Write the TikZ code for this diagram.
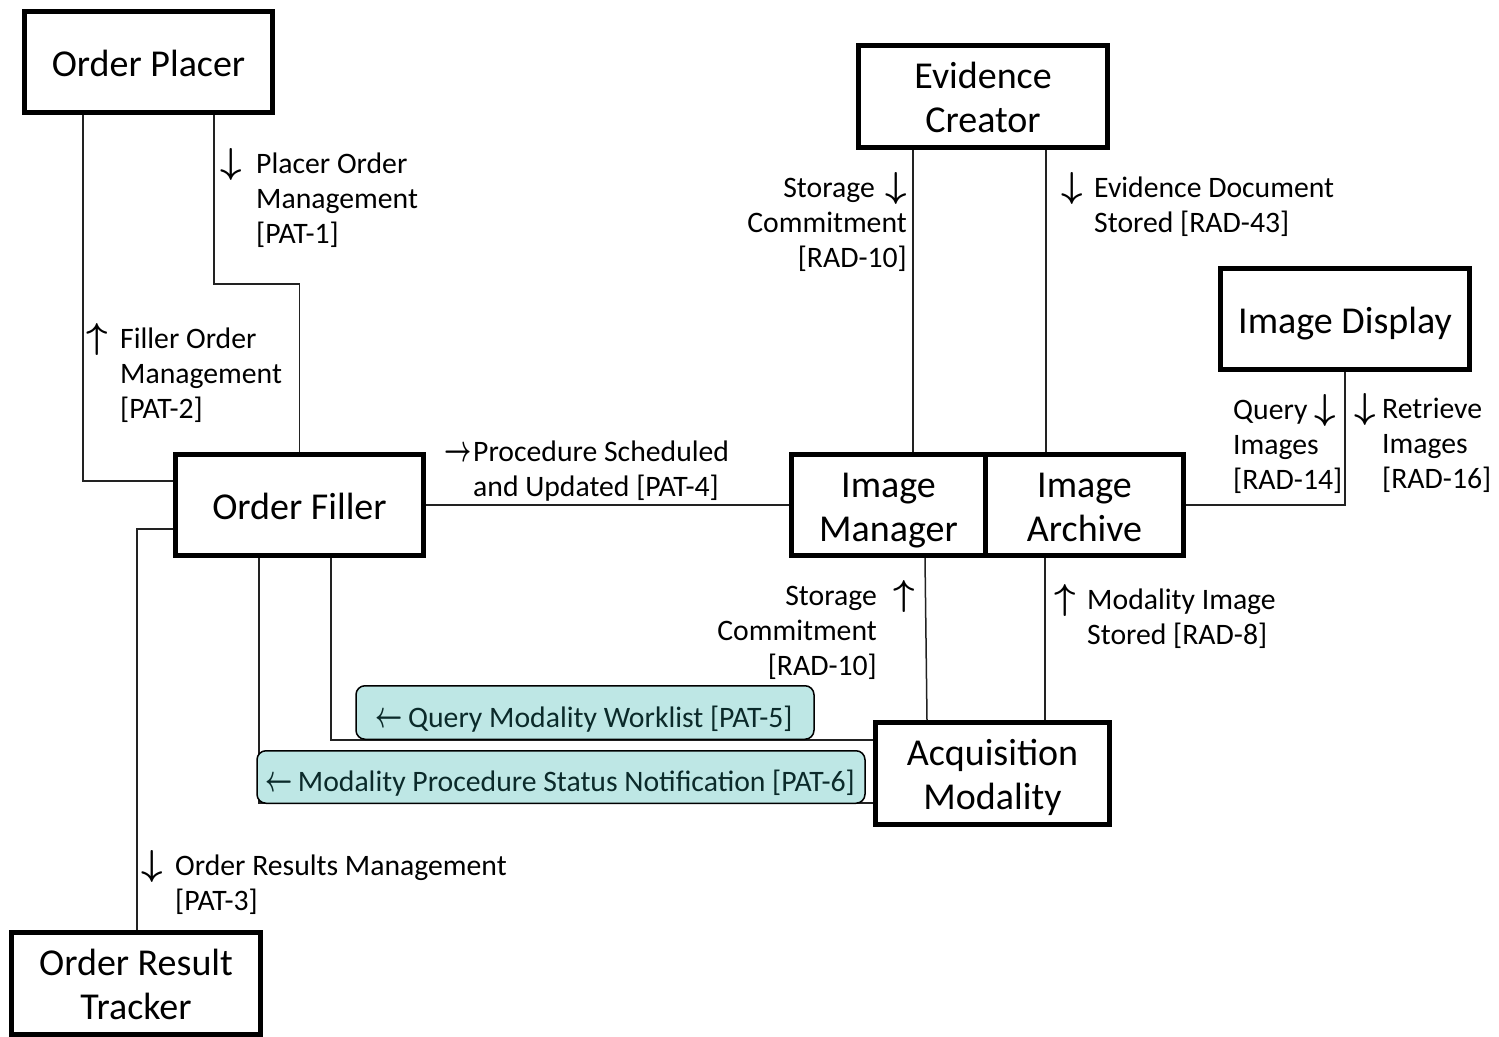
\documentclass[tikz,border=0pt]{standalone}
\usepackage{graphicx}
\usepackage{fontspec}
\setmainfont{Carlito}
\newcommand\ArrD{\makebox[22pt][c]{\scalebox{1.5}[1.45]{\boldmath$\downarrow$}}}
\newcommand\ArrU{\makebox[22pt][c]{\scalebox{1.5}[1.45]{\boldmath$\uparrow$}}}
\newcommand\ArrR{\makebox[24pt][c]{\scalebox{0.95}[1.5]{\boldmath$\rightarrow$}}}
\newcommand\ArrL{\makebox[24pt][c]{\scalebox{0.95}[1.5]{\boldmath$\leftarrow$}}}
\newcommand\bs{\rule[-8pt]{0pt}{44pt}}
\newcommand\boxfont{\fontsize{38}{44}\selectfont}
\newcommand\labfont{\fontsize{29.7}{35}\selectfont}
\definecolor{msgfill}{HTML}{BEE7E5}
\definecolor{msgtext}{HTML}{0B2A2A}
\definecolor{wirecol}{HTML}{222222}
\tikzset{
  box/.style={draw, line width=5pt, inner sep=0pt, align=center, font=\boxfont},
  lab/.style={inner sep=0pt, font=\labfont},
  wire/.style={line width=1.5pt, draw=wirecol},
  msg/.style={draw, line width=1.5pt, rounded corners=9pt, fill=msgfill, inner sep=0pt,
    font=\labfont, text=msgtext, text height=33pt, text depth=4pt}
}
\begin{document}
\begin{tikzpicture}[x=1pt,y=-1pt]
\fill[white] (0,0) rectangle (1499,1036);
\useasboundingbox (0,0) rectangle (1499,1036);

% boxes
\node[box, minimum width=248pt, minimum height=101pt] (OP) at (148.5,62) {\bs Order Placer};
\node[box, minimum width=249pt, minimum height=102pt] (EC) at (983,96.5) {\bs Evidence\\\bs Creator};
\node[box, minimum width=249pt, minimum height=101pt] (ID) at (1345,319) {\bs Image Display};
\node[box, minimum width=248pt, minimum height=101pt] (OF) at (299.5,505) {\bs Order Filler};
\node[box, minimum width=194pt, minimum height=101pt] (IM) at (888.5,505) {\bs Image\\\bs Manager};
\node[box, minimum width=198pt, minimum height=101pt] (IA) at (1084.5,505) {\bs Image\\\bs Archive};
\node[box, minimum width=234pt, minimum height=102pt] (AM) at (992.5,773.5) {\bs Acquisition\\\bs Modality};
\node[box, minimum width=249pt, minimum height=102pt] (ORT) at (136,983.5) {\bs Order Result\\\bs Tracker};

% connectors
\draw[wire] (OP.south -| 83,0) |- (OF.west |- 0,481);
\draw[wire] (OP.south -| 214,0) -- (214,284) -| (OF.north);
\draw[wire] (OF.east) -- (IM.west);
\draw[wire] (EC.south -| 913,0) -- (IM.north -| 913,0);
\draw[wire] (EC.south -| 1046,0) -- (IA.north -| 1046,0);
\draw[wire] (ID.south) |- (IA.east);
\draw[wire] (IM.south -| 925,0) -- (AM.north -| 927,0);
\draw[wire] (IA.south -| 1045,0) -- (AM.north -| 1045,0);
\draw[wire] (OF.south -| 331,0) |- (AM.west |- 0,740);
\draw[wire] (OF.south -| 259,0) |- (AM.west |- 0,803);
\draw[wire] (OF.west |- 0,529) -| (ORT.north -| 137,0);

% message boxes
\node[msg, minimum width=458pt, minimum height=53.5pt] (m5) at (585,712.5) {\ArrL{} Query Modality Worklist [PAT-5]};
\node[msg, minimum width=608pt, minimum height=52.5pt] (m6) at (561,777) {\ArrL{} Modality Procedure Status Notification [PAT-6]};

% labels
\node[lab, anchor=base west] (l1) at (220,173) {\begin{tabular}[t]{@{}l@{\hspace{14pt}}l@{}}\ArrD & Placer Order\\ & Management\\ & [PAT-1]\end{tabular}};
\node[lab, anchor=base west] (l2) at (86,348) {\begin{tabular}[t]{@{}l@{\hspace{12pt}}l@{}}\ArrU & Filler Order\\ & Management\\ & [PAT-2]\end{tabular}};
\node[lab, anchor=base east] (l3) at (907,197) {\begin{tabular}[t]{@{}r@{}}Storage\hspace{10pt}\ArrD\\ Commitment\\ {[RAD-10]}\end{tabular}};
\node[lab, anchor=base west] (l4) at (1061,197) {\begin{tabular}[t]{@{}l@{\hspace{11pt}}l@{}}\ArrD & Evidence Document\\ & Stored [RAD-43]\end{tabular}};
\node[lab, anchor=base west] (l5) at (1233,419) {\begin{tabular}[t]{@{}l@{}}Query\hspace{7pt}\ArrD\\ Images\\ {[RAD-14]}\end{tabular}};
\node[lab, anchor=base west] (l6) at (1354,418) {\begin{tabular}[t]{@{}l@{\hspace{6pt}}l@{}}\ArrD & Retrieve\\ & Images\\ & [RAD-16]\end{tabular}};
\node[lab, anchor=base west] (l7) at (446,461) {\begin{tabular}[t]{@{}l@{\hspace{3pt}}l@{}}\ArrR & Procedure Scheduled\\ & and Updated [PAT-4]\end{tabular}};
\node[lab, anchor=base east] (l8) at (877,605) {\begin{tabular}[t]{@{}r@{}}Storage\rlap{\hspace{16pt}\ArrU}\\ Commitment\\ {[RAD-10]}\end{tabular}};
\node[lab, anchor=base west] (l9) at (1054,609) {\begin{tabular}[t]{@{}l@{\hspace{11pt}}l@{}}\ArrU & Modality Image\\ & Stored [RAD-8]\end{tabular}};
\node[lab, anchor=base west] (l10) at (141,875) {\begin{tabular}[t]{@{}l@{\hspace{12pt}}l@{}}\ArrD & Order Results Management\\ & [PAT-3]\end{tabular}};
\end{tikzpicture}
\end{document}
